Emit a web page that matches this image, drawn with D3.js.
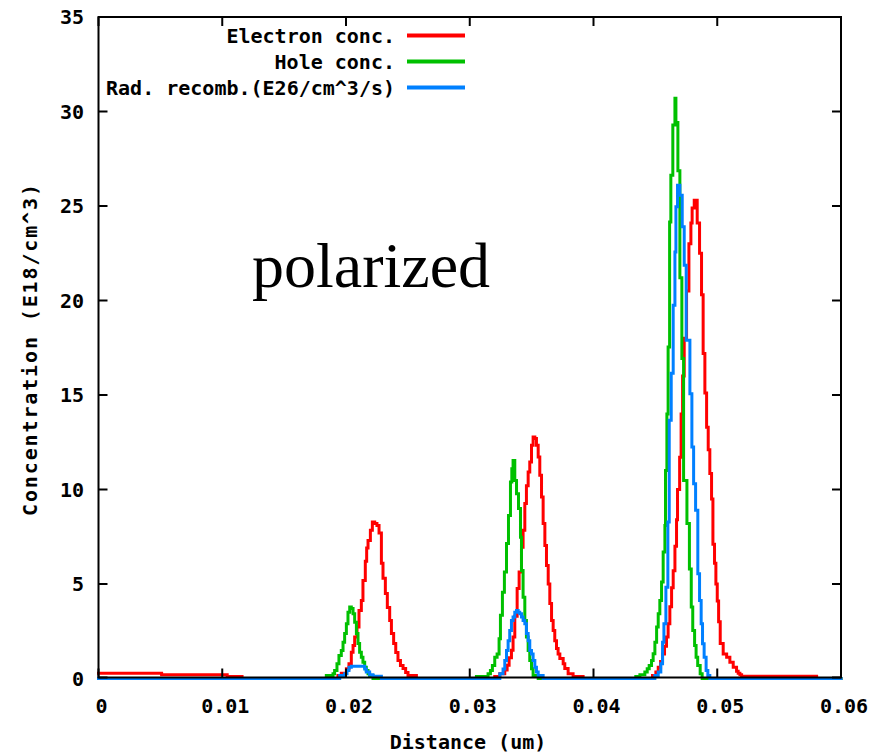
<!DOCTYPE html>
<html>
<head>
<meta charset="utf-8">
<script src="https://cdn.jsdelivr.net/npm/d3@7"></script>
<style>
  body { margin: 0; background: #fff; }
  svg { display: block; }
  text { font-family: "DejaVu Sans Mono", monospace; font-weight: bold; font-size: 20px; fill: #000; }
</style>
</head>
<body>
<script>
// Axis ticks
const xTicks = [0, 0.01, 0.02, 0.03, 0.04, 0.05, 0.06];
const xTickLabels = ["0", "0.01", "0.02", "0.03", "0.04", "0.05", "0.06"];
const yTicks = [0, 5, 10, 15, 20, 25, 30, 35];

// Series (legend order) and colours
const seriesNames = ["Electron conc.", "Hole conc.", "Rad. recomb.(E26/cm^3/s)"];
const seriesColors = ["#ff0000", "#00c000", "#0080ff"];

// Step profiles: [distance (um), value from this distance onward]
const electronConc = [
  [0, 0.28], [0.0051, 0.2], [0.0104, 0.1], [0.0116, 0],
  [0.01935, 0.16], [0.01962, 0.28], [0.02003, 0.51], [0.02024, 0.78], [0.02043, 1.39], [0.02057, 1.75],
  [0.0207, 2.19], [0.02089, 2.72], [0.02105, 3.6], [0.02124, 4.13], [0.02137, 5.19], [0.02156, 6.2],
  [0.02167, 6.9], [0.02178, 7.3], [0.02197, 7.84], [0.02213, 8.28], [0.02232, 8.2], [0.0225, 8.1],
  [0.02267, 7.7], [0.02286, 6.1], [0.02299, 5.3], [0.02318, 4.5], [0.02334, 3.76], [0.02353, 3.07],
  [0.02367, 2.38], [0.02385, 1.85], [0.02402, 1.38], [0.0242, 0.95], [0.0244, 0.69], [0.02461, 0.53],
  [0.02482, 0.32], [0.02501, 0.16], [0.02569, 0],
  [0.03202, 0.1], [0.03243, 0.25], [0.03283, 0.45], [0.03302, 0.7], [0.03318, 1.1], [0.03337, 1.5],
  [0.0335, 2.2], [0.03364, 3.3], [0.03383, 4.76], [0.03399, 5.63], [0.03418, 6.95], [0.03431, 7.84],
  [0.03445, 9.26], [0.03458, 10.2], [0.03472, 10.92], [0.03485, 11.45], [0.03499, 12.34], [0.03512, 12.78],
  [0.03526, 12.7], [0.03539, 12.34], [0.03553, 11.72], [0.03566, 10.75], [0.0358, 9.6], [0.03593, 8.2],
  [0.03607, 7.04], [0.0362, 5.98], [0.03634, 5.0], [0.03647, 3.97], [0.03661, 3.07], [0.03674, 2.54],
  [0.03687, 2.0], [0.03701, 1.59], [0.03714, 1.3], [0.03728, 1.06], [0.03755, 0.78], [0.03768, 0.53],
  [0.03795, 0.25], [0.03835, 0.1], [0.03916, 0],
  [0.04477, 0.16], [0.04504, 0.34], [0.04523, 0.6], [0.04542, 0.9], [0.04558, 1.3], [0.04574, 1.7],
  [0.0459, 2.2], [0.04603, 2.9], [0.04617, 3.8], [0.04631, 4.8], [0.04644, 5.7], [0.04658, 7.0],
  [0.04671, 8.4], [0.04679, 10.0], [0.04696, 11.7], [0.04708, 14.0], [0.0472, 16.0], [0.04733, 18.0],
  [0.04752, 20.5], [0.04771, 23.0], [0.04787, 24.1], [0.04797, 24.9], [0.04814, 25.3], [0.04838, 24.1],
  [0.04857, 22.5], [0.04873, 20.3], [0.04886, 17.2], [0.049, 15.1], [0.04914, 13.3], [0.04927, 12.1],
  [0.0494, 10.85], [0.04954, 9.5], [0.04965, 7.1], [0.04978, 6.1], [0.04989, 5.0], [0.05, 4.1],
  [0.05011, 3.0], [0.05024, 1.85], [0.05048, 1.3], [0.05076, 1.13], [0.05102, 0.86], [0.05129, 0.6],
  [0.05156, 0.39], [0.05169, 0.28], [0.05183, 0.2], [0.05197, 0.12], [0.05803, 0], [0.06, 0]
];

const holeConc = [
  [0, 0],
  [0.01841, 0.16], [0.01895, 0.25], [0.01908, 0.42], [0.01927, 0.78], [0.01943, 1.22], [0.01962, 1.48],
  [0.01976, 1.92], [0.01989, 2.38], [0.02003, 2.9], [0.02016, 3.51], [0.0203, 3.78], [0.02043, 3.7],
  [0.02057, 3.42], [0.0207, 2.98], [0.02084, 2.38], [0.02097, 1.85], [0.0211, 1.39], [0.02124, 1.13],
  [0.02137, 0.86], [0.02151, 0.6], [0.02164, 0.42], [0.02178, 0.25], [0.02191, 0.16], [0.02218, 0],
  [0.03054, 0.1], [0.03148, 0.25], [0.03167, 0.42], [0.03183, 0.69], [0.03202, 1.13], [0.03221, 1.3],
  [0.03237, 2.1], [0.03248, 3.34], [0.03264, 4.57], [0.0328, 5.63], [0.03297, 7.14], [0.03313, 8.63],
  [0.03329, 10.4], [0.0334, 11.1], [0.0335, 11.54], [0.03364, 10.48], [0.03378, 9.78], [0.03394, 9.0],
  [0.0341, 7.48], [0.03418, 5.72], [0.03431, 4.3], [0.03445, 3.07], [0.03458, 2.19], [0.03472, 1.48],
  [0.03485, 0.95], [0.03499, 0.51], [0.03512, 0.16], [0.03553, 0],
  [0.04342, 0.1], [0.04375, 0.2], [0.04415, 0.34], [0.04434, 0.51], [0.0445, 0.69], [0.04469, 0.95],
  [0.04482, 1.31], [0.04496, 1.92], [0.0451, 2.72], [0.04523, 3.43], [0.04536, 4.13], [0.0455, 5.1],
  [0.04563, 6.69], [0.04577, 8.1], [0.04582, 11.0], [0.04593, 14.0], [0.04603, 17.54], [0.04615, 24.16],
  [0.04625, 26.63], [0.04641, 29.28], [0.04658, 30.7], [0.04666, 29.42], [0.04682, 26.86], [0.04698, 21.2],
  [0.04714, 16.93], [0.04728, 10.48], [0.04755, 8.2], [0.04775, 5.8], [0.0479, 3.78], [0.04802, 2.54],
  [0.04817, 1.75], [0.04829, 1.13], [0.04842, 0.69], [0.04862, 0.25], [0.04878, 0], [0.06, 0]
];

const radRecomb = [
  [0, 0],
  [0.01949, 0.16], [0.01989, 0.25], [0.02008, 0.42], [0.02024, 0.6], [0.02043, 0.65], [0.02151, 0.5],
  [0.02164, 0.34], [0.02191, 0.2], [0.02218, 0.12], [0.02286, 0],
  [0.03243, 0.25], [0.03269, 0.5], [0.03283, 0.95], [0.03297, 1.48], [0.0331, 2.0], [0.03323, 2.54],
  [0.03337, 3.07], [0.0335, 3.25], [0.03364, 3.51], [0.03378, 3.6], [0.03391, 3.51], [0.03404, 3.42],
  [0.03418, 3.25], [0.03431, 3.07], [0.03445, 2.9], [0.03458, 2.38], [0.03472, 2.0], [0.03485, 1.48],
  [0.03499, 1.3], [0.03512, 0.95], [0.03526, 0.6], [0.03539, 0.34], [0.03553, 0.16], [0.03593, 0],
  [0.04496, 0.16], [0.04523, 0.34], [0.04544, 0.78], [0.04558, 1.92], [0.04569, 2.9], [0.04585, 4.83],
  [0.04601, 8.28], [0.04612, 13.66], [0.04628, 16.15], [0.04644, 19.75], [0.04658, 22.57], [0.04666, 24.96],
  [0.04679, 26.1], [0.04698, 25.57], [0.04717, 23.9], [0.04733, 21.87], [0.04749, 17.9], [0.04779, 15.07],
  [0.04795, 12.25], [0.04809, 10.3], [0.04825, 8.9], [0.04843, 5.54], [0.04857, 4.13], [0.0487, 2.9],
  [0.04881, 1.84], [0.04894, 1.13], [0.0491, 0.42], [0.04924, 0.16], [0.0494, 0], [0.06, 0]
];

const seriesData = [electronConc, holeConc, radRecomb];

const W = 883, H = 754;
const svg = d3.select("body").append("svg").attr("width", W).attr("height", H);

const x = d3.scaleLinear().domain([0, 0.06]).range([98.5, 841]);
const y = d3.scaleLinear().domain([0, 35]).range([678.5, 17]);

// Data curves (histogram steps), drawn red, green, blue
const line = d3.line()
  .x(d => x(d[0]))
  .y(d => y(d[1]))
  .curve(d3.curveStepAfter);

svg.append("g").selectAll("path")
  .data(seriesData)
  .join("path")
  .attr("d", line)
  .attr("fill", "none")
  .attr("stroke", (d, i) => seriesColors[i])
  .attr("stroke-width", 3)
  .attr("stroke-linejoin", "miter")
  .attr("stroke-linecap", "square");

// Frame
const fx0 = x(0), fx1 = x(0.06), fy0 = y(35), fy1 = y(0) - 1;
svg.append("rect")
  .attr("x", fx0).attr("y", fy0)
  .attr("width", fx1 - fx0).attr("height", fy1 - fy0)
  .attr("fill", "none").attr("stroke", "#000").attr("stroke-width", 2);

// Inward ticks on all four sides
const tickLen = 9;
const ticks = svg.append("g").attr("stroke", "#000").attr("stroke-width", 2);
xTicks.forEach(v => {
  ticks.append("line").attr("x1", x(v)).attr("x2", x(v)).attr("y1", fy1).attr("y2", fy1 - tickLen);
  ticks.append("line").attr("x1", x(v)).attr("x2", x(v)).attr("y1", fy0).attr("y2", fy0 + tickLen);
});
yTicks.forEach(v => {
  const yy = v === 0 ? fy1 : y(v);
  ticks.append("line").attr("x1", fx0).attr("x2", fx0 + tickLen).attr("y1", yy).attr("y2", yy);
  ticks.append("line").attr("x1", fx1).attr("x2", fx1 - tickLen).attr("y1", yy).attr("y2", yy);
});

// Tick labels
svg.append("g").selectAll("text")
  .data(xTicks)
  .join("text")
  .attr("x", d => x(d) + 3)
  .attr("y", 713)
  .attr("text-anchor", "middle")
  .text((d, i) => xTickLabels[i]);

svg.append("g").selectAll("text")
  .data(yTicks)
  .join("text")
  .attr("x", 84)
  .attr("y", d => y(d))
  .attr("dy", "0.36em")
  .attr("text-anchor", "end")
  .text(d => String(d));

// Axis titles
svg.append("text")
  .attr("x", 468).attr("y", 749)
  .attr("text-anchor", "middle")
  .text("Distance (um)");

svg.append("text")
  .attr("transform", "translate(37,350) rotate(-90)")
  .attr("text-anchor", "middle")
  .attr("textLength", 332)
  .attr("lengthAdjust", "spacing")
  .text("Concentration (E18/cm^3)");

// Legend
const legend = svg.append("g");
seriesNames.forEach((name, i) => {
  const ly = 35.5 + i * 26;
  legend.append("text")
    .attr("x", 395).attr("y", ly).attr("dy", "0.36em")
    .attr("text-anchor", "end")
    .text(name);
  legend.append("line")
    .attr("x1", 407).attr("x2", 465)
    .attr("y1", ly).attr("y2", ly)
    .attr("stroke", seriesColors[i]).attr("stroke-width", 4);
});

// Annotation
svg.append("text")
  .attr("x", 252).attr("y", 287)
  .style("font-family", "'Liberation Serif', 'Times New Roman', serif")
  .style("font-weight", "normal")
  .style("font-size", "64px")
  .text("polarized");
</script>
</body>
</html>
